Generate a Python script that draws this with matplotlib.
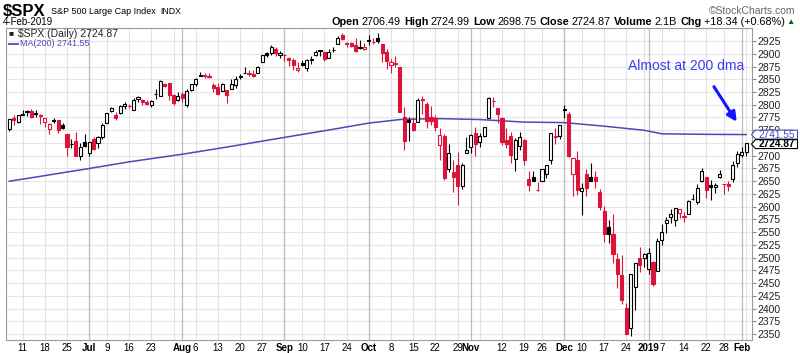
import numpy as np
import matplotlib.pyplot as plt
from matplotlib.patches import Polygon

plt.rcParams['font.family'] = ['Liberation Sans', 'DejaVu Sans']

# daily candles, $SPX
dates = [
    '2018-06-06', '2018-06-07', '2018-06-08', '2018-06-11', '2018-06-12', '2018-06-13', '2018-06-14', '2018-06-15',
    '2018-06-18', '2018-06-19', '2018-06-20', '2018-06-21', '2018-06-22', '2018-06-25', '2018-06-26', '2018-06-27',
    '2018-06-28', '2018-06-29',
    '2018-07-02', '2018-07-03', '2018-07-05', '2018-07-06', '2018-07-09', '2018-07-10', '2018-07-11', '2018-07-12',
    '2018-07-13', '2018-07-16', '2018-07-17', '2018-07-18', '2018-07-19', '2018-07-20', '2018-07-23', '2018-07-24',
    '2018-07-25', '2018-07-26', '2018-07-27', '2018-07-30', '2018-07-31',
    '2018-08-01', '2018-08-02', '2018-08-03', '2018-08-06', '2018-08-07', '2018-08-08', '2018-08-09', '2018-08-10',
    '2018-08-13', '2018-08-14', '2018-08-15', '2018-08-16', '2018-08-17', '2018-08-20', '2018-08-21', '2018-08-22',
    '2018-08-23', '2018-08-24', '2018-08-27', '2018-08-28', '2018-08-29', '2018-08-30', '2018-08-31',
    '2018-09-04', '2018-09-05', '2018-09-06', '2018-09-07', '2018-09-10', '2018-09-11', '2018-09-12', '2018-09-13',
    '2018-09-14', '2018-09-17', '2018-09-18', '2018-09-19', '2018-09-20', '2018-09-21', '2018-09-24', '2018-09-25',
    '2018-09-26', '2018-09-27', '2018-09-28',
    '2018-10-01', '2018-10-02', '2018-10-03', '2018-10-04', '2018-10-05', '2018-10-08', '2018-10-09', '2018-10-10',
    '2018-10-11', '2018-10-12', '2018-10-15', '2018-10-16', '2018-10-17', '2018-10-18', '2018-10-19', '2018-10-22',
    '2018-10-23', '2018-10-24', '2018-10-25', '2018-10-26', '2018-10-29', '2018-10-30', '2018-10-31',
    '2018-11-01', '2018-11-02', '2018-11-05', '2018-11-06', '2018-11-07', '2018-11-08', '2018-11-09', '2018-11-12',
    '2018-11-13', '2018-11-14', '2018-11-15', '2018-11-16', '2018-11-19', '2018-11-20', '2018-11-21', '2018-11-23',
    '2018-11-26', '2018-11-27', '2018-11-28', '2018-11-29', '2018-11-30',
    '2018-12-03', '2018-12-04', '2018-12-06', '2018-12-07', '2018-12-10', '2018-12-11', '2018-12-12', '2018-12-13',
    '2018-12-14', '2018-12-17', '2018-12-18', '2018-12-19', '2018-12-20', '2018-12-21', '2018-12-24', '2018-12-26',
    '2018-12-27', '2018-12-28', '2018-12-31',
    '2019-01-02', '2019-01-03', '2019-01-04', '2019-01-07', '2019-01-08', '2019-01-09', '2019-01-10', '2019-01-11',
    '2019-01-14', '2019-01-15', '2019-01-16', '2019-01-17', '2019-01-18', '2019-01-22', '2019-01-23', '2019-01-24',
    '2019-01-25', '2019-01-28', '2019-01-29', '2019-01-30', '2019-01-31',
    '2019-02-01', '2019-02-04',
]

opens = [
    2753.25, 2774.84, 2765.84, 2780.18, 2785.60, 2787.94, 2783.21, 2777.78, 2765.79, 2752.01, 2769.73, 2769.28,
    2760.79, 2742.94, 2722.12, 2728.45, 2698.69, 2727.13,
    2704.95, 2733.27, 2724.19, 2737.68, 2765.06, 2788.56, 2779.82, 2783.14, 2796.93, 2797.36, 2789.34, 2811.35,
    2809.37, 2804.55, 2799.17, 2820.68, 2817.73, 2839.96, 2842.35, 2819.00, 2809.73,
    2821.17, 2800.48, 2829.62, 2840.29, 2855.92, 2856.79, 2857.19, 2838.90, 2835.46, 2827.88, 2827.95, 2831.44,
    2838.32, 2853.93, 2861.51, 2860.99, 2860.29, 2862.35, 2884.69, 2901.45, 2900.62, 2908.94, 2898.37,
    2896.96, 2891.59, 2888.64, 2868.26, 2881.39, 2871.57, 2888.29, 2896.85, 2906.38, 2903.83, 2890.74, 2906.60,
    2919.73, 2936.76, 2921.83, 2921.75, 2916.98, 2911.65, 2910.03,
    2926.29, 2923.80, 2931.69, 2919.35, 2902.54, 2877.53, 2882.51, 2873.90, 2776.87, 2770.54, 2763.83, 2767.05,
    2811.67, 2802.00, 2775.66, 2773.94, 2721.03, 2737.87, 2674.88, 2667.86, 2682.65, 2640.68, 2705.60,
    2717.58, 2745.45, 2726.37, 2738.40, 2774.13, 2806.83, 2794.10, 2773.93, 2730.05, 2737.90, 2693.52, 2718.54,
    2730.74, 2654.60, 2657.74, 2633.36, 2649.97, 2663.75, 2691.45, 2736.97, 2737.76,
    2790.50, 2782.43, 2663.51, 2691.26, 2630.86, 2664.44, 2658.23, 2658.70, 2629.68, 2590.75, 2559.90, 2547.05,
    2496.77, 2465.38, 2400.56, 2363.12, 2442.50, 2498.77, 2498.94,
    2476.96, 2491.92, 2474.33, 2535.61, 2568.11, 2580.00, 2573.51, 2588.11, 2580.31, 2585.10, 2614.75, 2609.28,
    2651.27, 2657.88, 2643.48, 2638.84, 2657.44, 2644.97, 2644.89, 2653.62, 2685.49,
    2702.32, 2706.49,
]

highs = [
    2772.39, 2779.90, 2779.39, 2790.21, 2789.80, 2791.47, 2789.06, 2782.81, 2774.99, 2765.05, 2774.86, 2769.28,
    2764.17, 2742.94, 2732.91, 2746.09, 2724.34, 2743.26,
    2727.26, 2736.58, 2737.83, 2764.41, 2784.65, 2795.58, 2785.91, 2799.22, 2804.53, 2801.19, 2814.19, 2816.76,
    2812.05, 2809.70, 2808.61, 2829.99, 2848.03, 2842.96, 2843.17, 2821.74, 2824.46,
    2825.83, 2829.91, 2840.38, 2853.29, 2863.43, 2862.44, 2862.48, 2842.20, 2843.40, 2843.11, 2827.95, 2850.49,
    2855.63, 2859.76, 2873.23, 2867.54, 2868.78, 2876.16, 2898.25, 2903.77, 2916.50, 2912.46, 2906.32,
    2900.18, 2894.21, 2892.05, 2883.81, 2886.93, 2890.43, 2894.65, 2906.76, 2908.30, 2904.65, 2908.86, 2912.36,
    2934.80, 2940.91, 2923.79, 2923.95, 2931.15, 2927.22, 2920.53,
    2937.06, 2931.42, 2939.86, 2919.78, 2909.64, 2889.45, 2894.83, 2874.02, 2795.14, 2775.77, 2775.99, 2813.46,
    2816.94, 2806.04, 2797.77, 2778.94, 2753.59, 2742.59, 2722.70, 2692.38, 2706.85, 2685.43, 2736.69,
    2741.67, 2756.55, 2744.27, 2756.82, 2815.15, 2814.75, 2794.10, 2775.99, 2754.60, 2746.80, 2735.38, 2746.75,
    2733.16, 2669.44, 2670.73, 2647.55, 2674.35, 2682.53, 2744.00, 2753.75, 2760.88,
    2800.18, 2785.93, 2696.15, 2708.54, 2647.51, 2674.35, 2685.44, 2670.19, 2635.07, 2601.13, 2573.99, 2585.29,
    2509.63, 2504.41, 2410.34, 2467.76, 2489.10, 2520.27, 2509.24,
    2519.49, 2493.14, 2538.07, 2566.16, 2579.82, 2595.32, 2597.82, 2596.27, 2589.32, 2613.08, 2625.76, 2645.06,
    2675.47, 2657.88, 2653.19, 2647.20, 2672.38, 2644.97, 2650.93, 2690.44, 2708.95,
    2716.66, 2724.99,
]

lows = [
    2748.46, 2760.16, 2763.59, 2780.17, 2778.78, 2774.65, 2776.52, 2761.73, 2757.12, 2743.19, 2763.91, 2744.39,
    2752.68, 2698.67, 2715.60, 2699.38, 2691.99, 2718.03,
    2698.95, 2711.16, 2716.02, 2733.52, 2765.06, 2786.24, 2770.77, 2781.53, 2791.69, 2793.39, 2789.24, 2805.89,
    2799.77, 2800.01, 2795.14, 2811.12, 2817.73, 2835.58, 2808.34, 2799.69, 2808.06,
    2805.85, 2796.34, 2827.37, 2835.98, 2855.92, 2853.09, 2851.98, 2825.81, 2819.88, 2826.58, 2802.49, 2831.44,
    2833.73, 2850.62, 2861.32, 2856.05, 2854.03, 2862.35, 2884.69, 2893.50, 2898.40, 2895.22, 2891.73,
    2885.13, 2876.92, 2867.29, 2864.12, 2875.94, 2866.78, 2879.20, 2896.39, 2895.77, 2886.16, 2890.74, 2903.82,
    2919.73, 2927.11, 2912.63, 2913.70, 2903.28, 2909.27, 2907.50,
    2917.91, 2919.37, 2921.36, 2883.92, 2869.29, 2862.08, 2874.27, 2784.86, 2710.51, 2729.44, 2749.03, 2766.91,
    2781.81, 2755.18, 2760.27, 2749.22, 2691.43, 2651.89, 2667.84, 2628.16, 2603.54, 2635.34, 2705.60,
    2705.42, 2700.44, 2717.94, 2737.08, 2774.13, 2794.99, 2764.24, 2722.00, 2714.98, 2685.75, 2670.75, 2712.16,
    2681.09, 2631.52, 2649.82, 2631.09, 2649.97, 2655.89, 2684.38, 2722.94, 2732.76,
    2773.38, 2697.18, 2621.53, 2623.14, 2583.23, 2621.30, 2650.26, 2637.27, 2593.84, 2530.54, 2528.71, 2488.96,
    2441.18, 2408.55, 2351.10, 2346.58, 2397.94, 2472.89, 2482.82,
    2467.47, 2443.96, 2474.33, 2524.56, 2547.56, 2568.89, 2562.02, 2577.40, 2570.41, 2585.10, 2612.68, 2606.36,
    2647.58, 2617.27, 2612.86, 2627.01, 2657.33, 2624.06, 2631.05, 2648.34, 2678.65,
    2696.88, 2698.75,
]

closes = [
    2772.35, 2770.37, 2779.03, 2782.00, 2786.85, 2775.63, 2782.49, 2779.66, 2773.75, 2762.59, 2767.32, 2749.76,
    2754.88, 2717.07, 2723.06, 2699.63, 2716.31, 2718.37,
    2726.71, 2713.22, 2736.61, 2759.82, 2784.17, 2793.84, 2774.02, 2798.29, 2801.31, 2798.43, 2809.55, 2815.62,
    2804.49, 2801.83, 2806.98, 2820.40, 2846.07, 2837.44, 2818.82, 2802.60, 2816.29,
    2813.36, 2827.22, 2840.35, 2850.40, 2858.45, 2857.70, 2853.58, 2833.28, 2821.93, 2839.96, 2818.37, 2840.69,
    2850.13, 2857.05, 2862.96, 2861.82, 2856.98, 2874.69, 2896.74, 2897.52, 2914.04, 2901.13, 2901.52,
    2896.72, 2888.60, 2878.05, 2871.68, 2877.13, 2887.89, 2888.92, 2904.18, 2904.98, 2888.80, 2904.31, 2907.95,
    2930.75, 2929.67, 2919.37, 2915.56, 2905.97, 2914.00, 2913.98,
    2924.59, 2923.43, 2925.51, 2901.61, 2885.57, 2884.43, 2880.34, 2785.68, 2728.37, 2767.13, 2750.79, 2809.92,
    2809.21, 2768.78, 2767.78, 2755.88, 2740.69, 2656.10, 2705.57, 2658.69, 2641.25, 2682.63, 2711.74,
    2740.37, 2723.06, 2738.31, 2755.45, 2813.89, 2806.83, 2781.01, 2726.22, 2722.18, 2701.58, 2730.20, 2736.27,
    2690.73, 2641.89, 2649.93, 2632.56, 2673.45, 2682.17, 2743.79, 2737.80, 2760.17,
    2790.37, 2700.06, 2695.95, 2633.08, 2637.72, 2636.78, 2651.07, 2650.54, 2599.95, 2545.94, 2546.16, 2506.96,
    2467.42, 2416.62, 2351.10, 2467.70, 2488.83, 2485.74, 2506.85,
    2510.03, 2447.89, 2531.94, 2549.69, 2574.41, 2584.96, 2596.64, 2596.26, 2582.61, 2610.30, 2616.10, 2635.96,
    2670.71, 2632.90, 2638.70, 2642.33, 2664.76, 2643.85, 2640.00, 2681.05, 2704.10,
    2706.53, 2724.87,
]

# 200 day moving average
ma_dates = ['2018-06-06', '2018-06-18', '2018-07-02', '2018-07-16', '2018-08-01', '2018-08-15', '2018-09-04',
            '2018-09-17', '2018-10-01', '2018-10-10', '2018-10-22', '2018-11-05', '2018-11-19', '2018-12-03',
            '2018-12-17', '2018-12-31', '2019-01-07', '2019-01-22', '2019-02-04']
ma_values = [2650, 2661, 2675, 2688, 2703, 2717, 2736, 2749, 2764, 2771, 2773, 2771, 2766, 2765,
             2758, 2750, 2743, 2742, 2741.55]

tick_dates = ['2018-06-11', '2018-06-18', '2018-06-25', '2018-07-02', '2018-07-09', '2018-07-16', '2018-07-23',
              '2018-08-01', '2018-08-06', '2018-08-13', '2018-08-20', '2018-08-27', '2018-09-04', '2018-09-10',
              '2018-09-17', '2018-09-24', '2018-10-01', '2018-10-08', '2018-10-15', '2018-10-22', '2018-10-29',
              '2018-11-01', '2018-11-12', '2018-11-19', '2018-11-26', '2018-12-03', '2018-12-10', '2018-12-17',
              '2018-12-24', '2019-01-02', '2019-01-07', '2019-01-14', '2019-01-22', '2019-01-28', '2019-02-01']
tick_labels = ['11', '18', '25', 'Jul', '9', '16', '23', 'Aug', '6', '13', '20', '27', 'Sep', '10', '17', '24',
               'Oct', '8', '15', '22', '29', 'Nov', '12', '19', '26', 'Dec', '10', '17', '24', '2019', '7', '14',
               '22', '28', 'Feb']

RED = '#dc143c'
MA_BLUE = '#4a4ab8'

o, h, l, c = (np.array(v) for v in (opens, highs, lows, closes))
x = np.arange(len(dates))
d = np.array(dates, dtype='datetime64[D]')

fig = plt.figure(figsize=(8, 3.53), dpi=100)
ax_w = 751.5 - 5.7
ax = fig.add_axes([5.7 / 800, 13 / 353, ax_w / 800, 312 / 353])
ax.set_xlim(-0.8, 167.2)
ax.set_ylim(2338.7, 2950.5)

# grid: weekly light, month starts darker
for lvl in range(2350, 2951, 25):
    ax.axhline(lvl, color='#e6e6e6', lw=0.8, zorder=0)
week_start = [i for i in range(1, len(d)) if (d[i] - d[i - 1]).astype(int) >= 3 or
              (d[i].astype(object).weekday() < d[i - 1].astype(object).weekday())]
month_start = [i for i in range(1, len(dates)) if dates[i][5:7] != dates[i - 1][5:7]]
for i in week_start:
    ax.axvline(i, color='#e3e3e3', lw=0.8, zorder=0)
for i in month_start:
    ax.axvline(i, color='#bdbdbd', lw=0.9, zorder=0)

# candles: black/red by close vs prior close, hollow when close > open
prev = np.r_[o[0], c[:-1]]
col = np.where(c >= prev, 'black', RED)
face = np.where(c > o, 'white', col)
ax.vlines(x, l, h, colors=col, lw=0.8, zorder=3)
ax.bar(x, np.maximum(np.abs(c - o), 0.5), bottom=np.minimum(o, c), width=0.7,
       color=face, edgecolor=col, linewidth=0.8, zorder=4)

ma_x = [dates.index(s) for s in ma_dates]
ax.plot(ma_x, ma_values, color=MA_BLUE, lw=1.1, zorder=2)

# axes styling
for s in ax.spines.values():
    s.set_color('#9a9a9a')
    s.set_linewidth(0.8)
ax.yaxis.tick_right()
yticks = list(range(2350, 2926, 25))
ax.set_yticks(yticks)
# 2725 sits fully under the close tag
ax.set_yticklabels(['' if v == 2725 else str(v) for v in yticks])
ax.tick_params(axis='y', labelsize=7.5, length=3, pad=1.5, color='#888888', labelcolor='#222222')
ax.set_xticks([dates.index(s) for s in tick_dates])
ax.set_xticklabels(tick_labels)
ax.tick_params(axis='x', labelsize=7, length=0, pad=2.5)
for t in ax.get_xticklabels():
    if not t.get_text().isdigit() or t.get_text() == '2019':
        t.set_fontweight('bold')

# last value tags on the price axis (pointed on the left, stacked)
yt = ax.get_yaxis_transform()
px = 1 / ax_w
tag_h = 17.5


def value_tag(yc, label, edge, bold):
    pts = [(0.0, yc), (4 * px, yc + tag_h / 2), (46 * px, yc + tag_h / 2),
           (46 * px, yc - tag_h / 2), (4 * px, yc - tag_h / 2)]
    pts = [(1 + a, b) for a, b in pts]
    ax.add_patch(Polygon(pts, closed=True, transform=yt, fc='white', ec=edge, lw=0.8,
                         zorder=10, clip_on=False))
    ax.text(1 + 25 * px, yc, label, transform=yt, fontsize=7.3, color=edge, ha='center', va='center',
            fontweight='bold' if bold else 'normal', zorder=11, clip_on=False)


close_y = closes[-1] - 2
ma_y = max(ma_values[-1], close_y + tag_h + 1)
value_tag(ma_y, f'{ma_values[-1]:.2f}', MA_BLUE, False)
value_tag(close_y, f'{closes[-1]:.2f}', 'black', True)

# in-chart legend
ax.text(0.004, 0.982, '\u25a0', transform=ax.transAxes, fontsize=6, color='#222222', va='center')
ax.text(0.016, 0.982, f'$SPX (Daily) {closes[-1]:.2f}', transform=ax.transAxes, fontsize=7.5,
        color='#222222', va='center')
ax.plot([0.004, 0.016], [0.950, 0.950], transform=ax.transAxes, color=MA_BLUE, lw=1.3)
ax.text(0.019, 0.950, f'MA(200) {ma_values[-1]:.2f}', transform=ax.transAxes, fontsize=6.5,
        color=MA_BLUE, va='center')

# annotation
ax.text(152.5, 2876, 'Almost at 200 dma', fontsize=10, color='#3c3cf0', ha='center', va='center')
ax.annotate('', xy=(164.2, 2762), xytext=(158.4, 2840),
            arrowprops=dict(arrowstyle='-|>', color='#1414ff', lw=2.2, mutation_scale=14))

# header
renderer = fig.canvas.get_renderer()
xl = 3
for txt, size, bold in [('$SPX', 12, True), ('S&P 500 Large Cap Index', 6.5, False), ('INDX', 6.3, False)]:
    t = fig.text(xl / 800, 1 - 11 / 353, txt, fontsize=size, fontweight='bold' if bold else 'normal',
                 va='center')
    xl += t.get_window_extent(renderer=renderer).width + 5
fig.text(795 / 800, 1 - 11 / 353, '\u00a9StockCharts.com', fontsize=7.5, color='#666666', ha='right',
         va='center')
fig.text(3 / 800, 1 - 22 / 353, '4-Feb-2019', fontsize=7, va='center')

chg = closes[-1] - closes[-2]
pieces = [('Open', True), (f'{opens[-1]:.2f}', False), ('High', True), (f'{highs[-1]:.2f}', False),
          ('Low', True), (f'{lows[-1]:.2f}', False), ('Close', True), (f'{closes[-1]:.2f}', False),
          ('Volume', True), ('2.1B', False), ('Chg', True),
          (f'+{chg:.2f} (+{chg / closes[-2] * 100:.2f}%)', False)]
xr = 795
t = fig.text(xr / 800, 1 - 22 / 353, '\u25b2', fontsize=6, color='#006600', ha='right', va='center')
xr -= t.get_window_extent(renderer=renderer).width + 2
for txt, bold in reversed(pieces):
    t = fig.text(xr / 800, 1 - 22 / 353, txt, fontsize=7.8, fontweight='bold' if bold else 'normal',
                 ha='right', va='center')
    xr -= t.get_window_extent(renderer=renderer).width + (3 if bold else 2.5)

fig.savefig('out.png', dpi=100)
